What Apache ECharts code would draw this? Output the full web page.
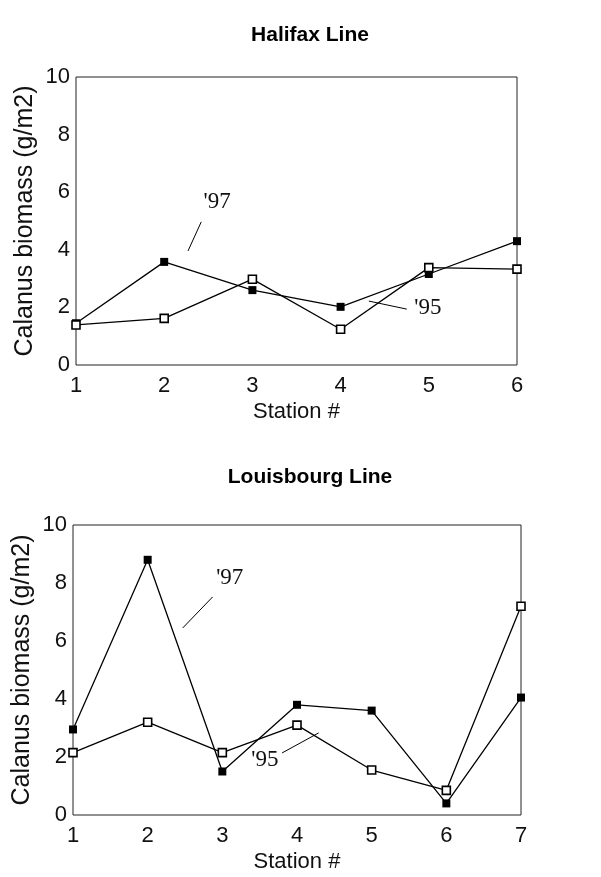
<!DOCTYPE html>
<html>
<head>
<meta charset="utf-8">
<script src="https://cdn.jsdelivr.net/npm/echarts@6/dist/echarts.min.js"></script>
<style>
  html, body { margin: 0; padding: 0; background: #fff; }
  #chart { width: 601px; height: 877px; }
</style>
</head>
<body>
<div id="chart"></div>
<script>
// station numbers
var halifaxStations = [1, 2, 3, 4, 5, 6];
var louisStations = [1, 2, 3, 4, 5, 6, 7];
// Calanus biomass (g/m2)
var halifax97 = [1.45, 3.58, 2.6, 2.02, 3.16, 4.3];
var halifax95 = [1.39, 1.62, 2.98, 1.24, 3.38, 3.33];
var louis97 = [2.95, 8.8, 1.5, 3.8, 3.6, 0.4, 4.05];
var louis95 = [2.15, 3.2, 2.15, 3.1, 1.55, 0.85, 7.2];
var yTicks = [0, 2, 4, 6, 8, 10];

var chart = echarts.init(document.getElementById("chart"));

function pairs(xs, ys) {
  return xs.map(function (x, i) {
    return [x, ys[i]];
  });
}

var tickFont = { color: "#111", fontSize: 22, fontFamily: "Liberation Sans, Arial" };
var nameFont = { color: "#111", fontSize: 22, fontFamily: "Liberation Sans, Arial" };
var noteFont = { color: "#111", fontSize: 23, fontFamily: "Liberation Serif, Times New Roman" };
var titleFont = { fontSize: 21, fontWeight: "bold", color: "#000", fontFamily: "Liberation Sans, Arial" };

function xAxis(idx, stations) {
  return {
    type: "value",
    gridIndex: idx,
    min: stations[0],
    max: stations[stations.length - 1],
    interval: 1,
    name: "Station #",
    nameLocation: "middle",
    nameGap: 36,
    nameTextStyle: nameFont,
    axisLine: { show: false },
    axisTick: { show: false },
    splitLine: { show: false },
    axisLabel: Object.assign({ margin: 10 }, tickFont),
  };
}

function yAxis(idx) {
  return {
    type: "value",
    gridIndex: idx,
    min: yTicks[0],
    max: yTicks[yTicks.length - 1],
    interval: 2,
    name: "Calanus biomass (g/m2)",
    nameLocation: "middle",
    nameGap: 38,
    nameMoveOverlap: false,
    nameTextStyle: Object.assign({}, nameFont, { fontSize: 25 }),
    axisLine: { show: false },
    axisTick: { show: false },
    splitLine: { show: false },
    axisLabel: Object.assign({ margin: 6 }, tickFont),
  };
}

function filled(name, idx, data, notes) {
  return {
    name: name,
    type: "line",
    xAxisIndex: idx,
    yAxisIndex: idx,
    data: data,
    symbol: "rect",
    symbolSize: 8,
    itemStyle: { color: "#000" },
    lineStyle: { color: "#000", width: 1.3 },
    z: 3,
    markLine: notes.line,
    markPoint: notes.text,
  };
}

function open(name, idx, data, notes) {
  return {
    name: name,
    type: "line",
    xAxisIndex: idx,
    yAxisIndex: idx,
    data: data,
    symbol: "rect",
    symbolSize: 8,
    itemStyle: { color: "#fff", borderColor: "#000", borderWidth: 1.6 },
    lineStyle: { color: "#000", width: 1.3 },
    z: 4,
    markLine: notes.line,
    markPoint: notes.text,
  };
}

// pointer line + text for the year labels, in data coordinates
function note(label, from, to, at) {
  return {
    line: {
      silent: true,
      symbol: ["none", "none"],
      label: { show: false },
      lineStyle: { color: "#000", width: 1, type: "solid" },
      data: [[{ coord: from }, { coord: to }]],
    },
    text: {
      silent: true,
      symbol: "circle",
      symbolSize: 0,
      label: Object.assign({ show: true, position: "inside", formatter: label }, noteFont),
      data: [{ coord: at }],
    },
  };
}

var option = {
  backgroundColor: "#fff",
  animation: false,
  title: [
    { text: "Halifax Line", left: 305, textAlign: "center", top: 20, textStyle: titleFont },
    { text: "Louisbourg Line", left: 305, textAlign: "center", top: 462, textStyle: titleFont },
  ],
  grid: [
    { left: 76, right: 84, top: 77, bottom: 512, show: true, borderColor: "#222", borderWidth: 1 },
    { left: 73, right: 80, top: 525, bottom: 62, show: true, borderColor: "#222", borderWidth: 1 },
  ],
  xAxis: [xAxis(0, halifaxStations), xAxis(1, louisStations)],
  yAxis: [yAxis(0), yAxis(1)],
  series: [
    filled("'97", 0, pairs(halifaxStations, halifax97), note("'97", [2.42, 4.97], [2.27, 3.96], [2.6, 5.66])),
    open("'95", 0, pairs(halifaxStations, halifax95), note("'95", [4.32, 2.22], [4.75, 1.94], [4.99, 1.98])),
    filled("'97", 1, pairs(louisStations, louis97), note("'97", [2.87, 7.52], [2.47, 6.45], [3.1, 8.17])),
    open("'95", 1, pairs(louisStations, louis95), note("'95", [4.29, 2.83], [3.8, 2.14], [3.57, 1.9])),
  ],
};

chart.setOption(option);
window.addEventListener("resize", function () {
  chart.resize();
});
</script>
</body>
</html>
